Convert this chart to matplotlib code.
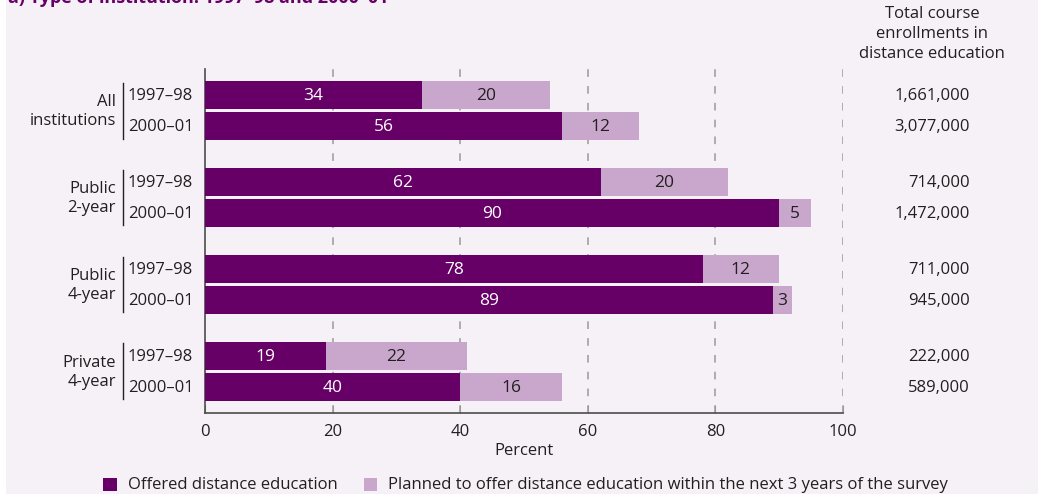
import matplotlib
matplotlib.use("Agg")
import matplotlib.pyplot as plt
from matplotlib.patches import Rectangle
from matplotlib.transforms import blended_transform_factory
import numpy as np

# ---- data ----
groups = ["All\ninstitutions", "Public\n2-year", "Public\n4-year", "Private\n4-year"]
years = ["1997\u201398", "2000\u201301"]
offered = [[34, 56], [62, 90], [78, 89], [19, 40]]
planned = [[20, 12], [20, 5], [12, 3], [22, 16]]
enrollments = [["1,661,000", "3,077,000"], ["714,000", "1,472,000"],
               ["711,000", "945,000"], ["222,000", "589,000"]]
xticks = [0, 20, 40, 60, 80, 100]
title = "a) Type of institution: 1997\u201398 and 2000\u201301"
legend_labels = ["Offered distance education",
                 "Planned to offer distance education within the next 3 years of the survey"]

DARK = "#660066"
LIGHT = "#C9A7CD"
BG = "#F5F1F7"
TXT = "#231F20"

plt.rcParams['font.family'] = ['Open Sans', 'DejaVu Sans']

W, H = 1049, 494
fig = plt.figure(figsize=(W / 100, H / 100), dpi=100, facecolor="white")

def fx(px):
    return px / W

def fy(py):
    return 1 - py / H

# panel background
fig.patches.append(Rectangle((fx(6), 0), fx(1038) - fx(6), 1, transform=fig.transFigure,
                             facecolor=BG, edgecolor="none", zorder=-10))

# title (clipped at top, as in the reference)
fig.text(fx(8), fy(3), title, fontsize=13, fontweight="bold", color=DARK,
         ha="left", va="baseline")

ax = fig.add_axes([fx(205), fy(413), fx(843) - fx(205), (413 - 69) / H])
ax.set_facecolor("none")

GROUP_GAP = 2.8
BAR_H = 0.9
for i in range(len(groups)):
    for j in range(len(years)):
        y = i * GROUP_GAP + j
        o = offered[i][j]
        p = planned[i][j]
        ax.barh(y, o, height=BAR_H, color=DARK, zorder=3)
        ax.barh(y, p, left=o, height=BAR_H, color=LIGHT, zorder=3)
        ax.text(o / 2, y + 0.03, str(o), color="white", ha="center", va="center",
                fontsize=12.5, zorder=4)
        ax.text(o + p / 2, y + 0.03, str(p), color=TXT, ha="center", va="center",
                fontsize=12.5, zorder=4)

ax.set_xlim(0, 100)
ax.set_ylim((len(groups) - 1) * GROUP_GAP + 1 + 0.84, -0.84)

for x in xticks[1:]:
    ax.axvline(x, color="#9A9A9A", linestyle=(0, (5, 6)), linewidth=1.1, zorder=1)

ax.spines["top"].set_visible(False)
ax.spines["right"].set_visible(False)
ax.spines["left"].set_color("#4D4D4D")
ax.spines["bottom"].set_color("#4D4D4D")
ax.spines["left"].set_linewidth(1.2)
ax.spines["bottom"].set_linewidth(1.2)
ax.set_yticks([])
ax.set_xticks(xticks)
ax.set_xticklabels([str(t) for t in xticks], fontsize=12, color=TXT)
ax.tick_params(axis="x", direction="in", length=6, color="#9A9A9A", pad=8)
ax.set_xlabel("Percent", fontsize=12, color=TXT, labelpad=2)

# labels on left and right
tr = blended_transform_factory(fig.transFigure, ax.transData)
for i, g in enumerate(groups):
    yc = i * GROUP_GAP + 0.5
    ax.text(fx(116), yc + 0.04, g, transform=tr, ha="right", va="center", fontsize=12,
            color=TXT, linespacing=1.25)
    ax.plot([fx(123), fx(123)], [i * GROUP_GAP - 0.4, i * GROUP_GAP + 1.4],
            transform=tr, color=TXT, linewidth=1.0, clip_on=False)
    for j, yr in enumerate(years):
        y = i * GROUP_GAP + j
        ax.text(fx(128), y + 0.03, yr, transform=tr, ha="left", va="center", fontsize=12, color=TXT)
        ax.text(fx(970), y + 0.03, enrollments[i][j], transform=tr, ha="right", va="center",
                fontsize=12, color=TXT)

fig.text(fx(932), fy(34), "Total course\nenrollments in\ndistance education",
         ha="center", va="center", fontsize=12, color=TXT, linespacing=1.3)

# legend
for (x0, x1, tx), col, lab in zip([(103, 117, 128), (364, 377, 388)], [DARK, LIGHT], legend_labels):
    fig.patches.append(Rectangle((fx(x0), fy(491)), fx(x1) - fx(x0), 13 / H,
                                 transform=fig.transFigure, facecolor=col, edgecolor="none"))
    fig.text(fx(tx), fy(485), lab, ha="left", va="center", fontsize=12, color=TXT)

fig.savefig("out.png", dpi=100, facecolor="white")
